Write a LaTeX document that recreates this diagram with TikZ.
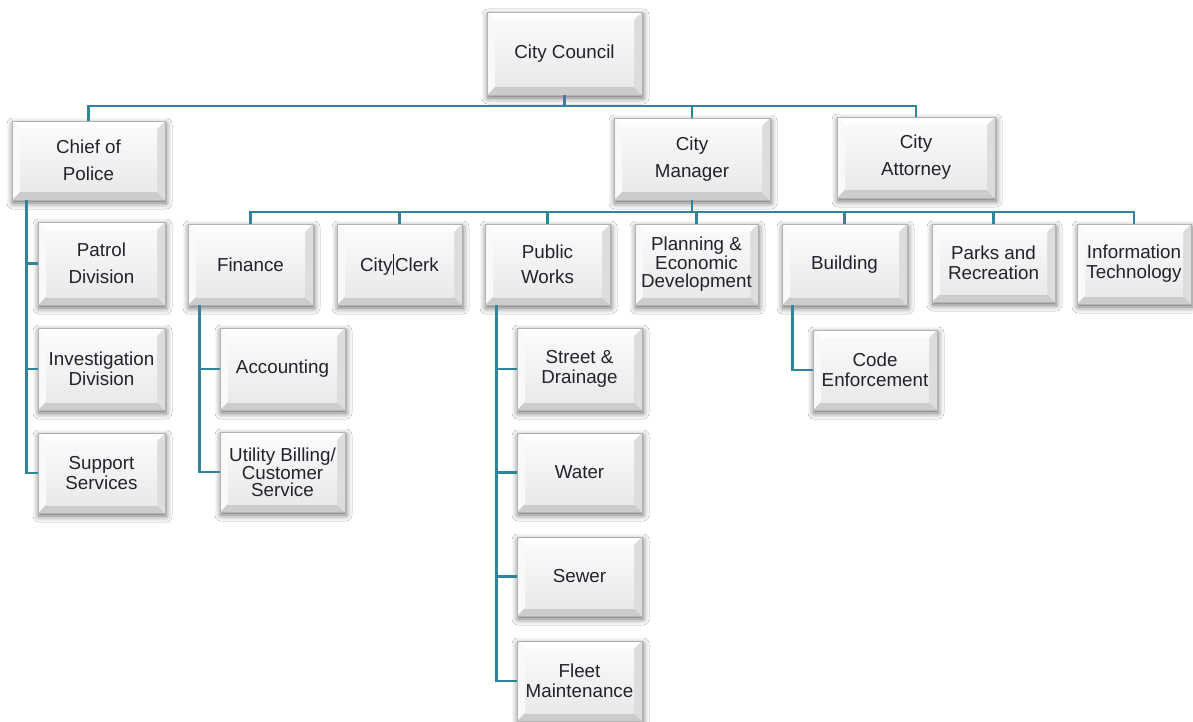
\documentclass[tikz,border=0pt]{standalone}
\usepackage{fontspec}
\setmainfont{Liberation Sans}
\usetikzlibrary{shadows.blur}
\definecolor{conncol}{HTML}{31849B}
\definecolor{txtcol}{HTML}{22222C}
\tikzset{
  conn/.style={draw=conncol, line width=2.6pt},
  wh/.style 2 args={minimum width=#1pt, minimum height=#2pt},
  ls/.style={font=\fontsize{18.8}{#1}\selectfont},
  box/.style={rectangle, fill=gray!10, draw=gray!60, line width=0.6pt,
    align=center, text=txtcol, inner sep=0pt, ls=20,
    blur shadow={shadow xshift=1pt, shadow yshift=-3pt, shadow blur radius=6pt, shadow opacity=60},
    path picture={
      \coordinate (sw) at (path picture bounding box.south west);
      \coordinate (ne) at (path picture bounding box.north east);
      \coordinate (nw) at (sw|-ne);
      \coordinate (se) at (sw-|ne);
      \coordinate (isw) at ([shift={(8pt,8pt)}]sw);
      \coordinate (ine) at ([shift={(-8pt,-8pt)}]ne);
      \coordinate (inw) at ([shift={(8pt,-8pt)}]nw);
      \coordinate (ise) at ([shift={(-8pt,8pt)}]se);
      \fill[white] (nw) -- (ne) -- (ine) -- (inw) -- cycle;
      \fill[gray!5] (nw) -- (inw) -- (isw) -- (sw) -- cycle;
      \fill[gray!40] (sw) -- (isw) -- (ise) -- (se) -- cycle;
      \fill[gray!27] (se) -- (ise) -- (ine) -- (ne) -- cycle;
      \shade[top color=gray!4, bottom color=gray!17] (isw) rectangle (ine);
    }},
}
\begin{document}
\begin{tikzpicture}[x=1pt, y=-1pt]
\useasboundingbox[fill=white] (0,0) rectangle (1193,722);

% top level
\node[box, wh={155}{83}] (council) at (564.5,53.5) {City Council};
\node[box, wh={153}{79}, ls=27] (police) at (88.5,160.5) {Chief of\\Police};
\node[box, wh={156}{82}, ls=27] (manager) at (692,159) {City\\Manager};
\node[box, wh={158}{81}, ls=27] (attorney) at (916,157.5) {City\\Attorney};

% departments under manager
\node[box, wh={125}{81}] (finance) at (250.5,264.5) {Finance};
\node[box, wh={125}{81}] (clerk) at (399.5,264.5) {City\kern0.5pt\rule[-4pt]{1pt}{21pt}\kern1pt Clerk};
\node[box, wh={125}{81}, ls=25] (pw) at (547.5,264.5) {Public\\Works};
\node[box, wh={123}{81}, ls=18.5] (planning) at (696.5,264.5) {Planning \&\\Economic\\Development};
\node[box, wh={125}{81}] (building) at (844.5,264.5) {Building};
\node[box, wh={123}{78}] (parks) at (993.5,263) {Parks and\\Recreation};
\node[box, wh={114}{80}] (it) at (1134,264) {Information\\Technology};

% police divisions
\node[box, wh={127}{83}, ls=27] (patrol) at (101.5,263.5) {Patrol\\Division};
\node[box, wh={127}{82}] (invest) at (101.5,369) {Investigation\\Division};
\node[box, wh={127}{80}] (support) at (101.5,473) {Support\\Services};

% finance
\node[box, wh={125}{82}] (accounting) at (282.5,369) {Accounting};
\node[box, wh={125}{80}, ls=17] (utility) at (282.5,472) {Utility Billing/\\Customer\\Service};

% public works
\node[box, wh={125}{82}] (street) at (579.5,369) {Street \&\\Drainage};
\node[box, wh={125}{79}] (water) at (579.5,472.5) {Water};
\node[box, wh={125}{79}] (sewer) at (579.5,576.5) {Sewer};
\node[box, wh={125}{80}] (fleet) at (579.5,681) {Fleet\\Maintenance};

% building
\node[box, wh={124}{80}] (code) at (875,370) {Code\\Enforcement};

% connectors: top bus
\coordinate (topbus) at (564.5,106);
\draw[conn] (police.north) |- (topbus) -| (attorney.north);
\draw[conn] (council.south) -- (council.south |- topbus);
\draw[conn] (manager.north) -- (manager.north |- topbus);

% manager bus
\coordinate (mbus) at (692,212);
\draw[conn] (finance.north) |- (mbus) -| (it.north);
\draw[conn] (manager.south) -- (manager.south |- mbus);
\foreach \n in {clerk,pw,planning,building,parks}
  \draw[conn] (\n.north) -- (\n.north |- mbus);

% police branch
\coordinate (pv) at ([xshift=15pt]police.south west);
\draw[conn] (pv) |- (support.west);
\foreach \n in {patrol,invest}
  \draw[conn] (\n.west) -- (\n.west -| pv);

% finance branch
\coordinate (fv) at ([xshift=12pt]finance.south west);
\draw[conn] (fv) |- (utility.west);
\draw[conn] (accounting.west) -- (accounting.west -| fv);

% public works branch
\coordinate (wv) at ([xshift=12pt]pw.south west);
\draw[conn] (wv) |- (fleet.west);
\foreach \n in {street,water,sewer}
  \draw[conn] (\n.west) -- (\n.west -| wv);

% building branch
\coordinate (bv) at ([xshift=11pt]building.south west);
\draw[conn] (bv) |- (code.west);
\end{tikzpicture}
\end{document}
